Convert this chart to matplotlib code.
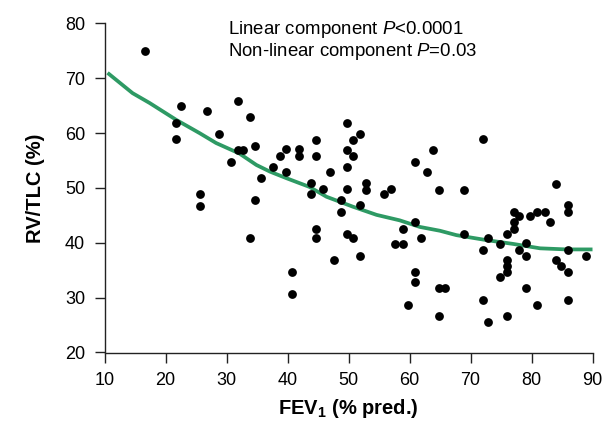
import matplotlib
matplotlib.use("Agg")
import matplotlib.pyplot as plt

plt.rcParams['font.family'] = ['Liberation Sans', 'DejaVu Sans']
plt.rcParams['mathtext.fontset'] = 'custom'
plt.rcParams['mathtext.rm'] = 'Liberation Sans'
plt.rcParams['mathtext.it'] = 'Liberation Sans:italic'
plt.rcParams['mathtext.bf'] = 'Liberation Sans:bold'

# Scatter data: FEV1 (% pred.) vs RV/TLC (%)
fev1 = [16.7, 22.6, 21.8, 21.8, 26.8, 31.9, 33.8, 28.7, 31.9, 32.7, 34.6, 30.8, 35.7,
        25.7, 25.7, 34.6, 33.8,
        37.7, 39.7, 38.8, 39.7, 41.9, 41.9, 44.7, 44.7, 46.9, 43.9, 45.8,
        49.7, 51.9, 50.8, 49.7, 50.8, 49.7, 49.7, 52.8, 57.0, 60.9, 62.8, 63.9,
        72.0, 84.0,
        43.9, 48.8, 48.8, 52.8, 51.9, 55.8,
        44.7, 44.7, 49.7, 50.8, 47.7, 51.9, 40.7, 40.7,
        60.9, 58.9, 61.9, 57.7, 58.9, 60.9, 60.9, 59.8,
        64.8, 68.9, 86.0, 86.0, 77.1, 77.9, 79.8, 80.9, 82.2, 83.0, 77.1, 77.1,
        76.0, 68.9, 72.9, 72.0, 74.8, 79.1, 77.9, 79.1, 86.0, 89.0, 84.0, 84.9,
        86.0, 76.0, 76.0, 76.0, 74.8, 64.8, 65.9, 64.8, 72.0, 72.9, 76.0, 79.1,
        80.9, 86.0]
rvtlc = [75.0, 65.0, 61.8, 58.9, 64.0, 65.9, 62.9, 59.9, 57.0, 57.0, 57.7, 54.8, 51.9,
         48.9, 46.7, 47.8, 40.8,
         53.9, 53.0, 55.9, 57.1, 57.1, 55.9, 58.8, 55.9, 52.9, 50.9, 49.9,
         61.8, 59.9, 58.8, 57.0, 55.9, 53.9, 49.9, 50.9, 49.9, 54.8, 52.9, 57.0,
         58.9, 50.7,
         48.9, 47.8, 45.7, 49.6, 46.9, 48.9,
         42.6, 40.8, 41.7, 40.8, 36.8, 37.6, 34.7, 30.6,
         43.8, 42.6, 40.8, 39.8, 39.8, 34.7, 32.8, 28.7,
         49.6, 49.6, 46.9, 45.7, 45.7, 44.9, 44.9, 45.7, 45.7, 43.8, 43.8, 42.6,
         41.7, 41.7, 40.8, 38.7, 39.8, 39.9, 38.7, 37.6, 38.7, 37.6, 36.8, 35.7,
         34.7, 36.8, 35.7, 34.7, 33.7, 31.7, 31.7, 26.6, 29.6, 25.5, 26.6, 31.7,
         28.7, 29.6]

# Fitted (non-linear) curve
fit_x = [10.5, 14.6, 17.4, 21.8, 25.6, 28.3, 32.1, 34.9, 37.1, 39.8, 43.6, 46.4,
         50.7, 54.6, 58.4, 61.7, 65.0, 67.7, 72.6, 77.0, 81.4, 85.7, 90.0]
fit_y = [71.0, 67.3, 65.5, 62.4, 60.0, 58.2, 56.3, 54.2, 53.0, 51.8, 50.2, 48.4,
         46.6, 45.1, 44.1, 42.9, 42.2, 41.4, 40.5, 39.8, 39.0, 38.8, 38.8]

xticks = [10, 20, 30, 40, 50, 60, 70, 80, 90]
yticks = [20, 30, 40, 50, 60, 70, 80]

W, H = 606, 421
fig = plt.figure(figsize=(W / 100, H / 100), dpi=100)
ax = fig.add_axes([104.5 / W, 1 - 352.5 / H, (592.5 - 104.5) / W, (352.5 - 23.5) / H])

ax.scatter(fev1, rvtlc, s=40, color='black', zorder=3, linewidths=0)
ax.plot(fit_x, fit_y, color='#2e9a64', lw=2.7, zorder=2, solid_capstyle='butt')

ax.set_xlim(10, 90)
ax.set_ylim(20, 80)
ax.set_xticks(xticks)
ax.set_yticks(yticks)
ax.tick_params(labelsize=13, length=7, width=1.0, color='#222222', pad=7)
for s in ['top', 'right']:
    ax.spines[s].set_visible(False)
for s in ['left', 'bottom']:
    ax.spines[s].set_linewidth(1.0)
    ax.spines[s].set_color('#222222')

ax.set_xlabel(r'FEV$_\mathbf{1}$ (% pred.)', fontsize=14.5, fontweight='bold', labelpad=6)
ax.set_ylabel('RV/TLC (%)', fontsize=14.5, fontweight='bold', labelpad=14)

fig.text(228 / W, 1 - 29 / H, r'Linear component $\mathit{P}$<0.0001', fontsize=13.4,
         ha='left', va='center')
fig.text(228 / W, 1 - 51 / H, r'Non-linear component $\mathit{P}$=0.03', fontsize=13.4,
         ha='left', va='center')

fig.savefig('out.png', dpi=100)
